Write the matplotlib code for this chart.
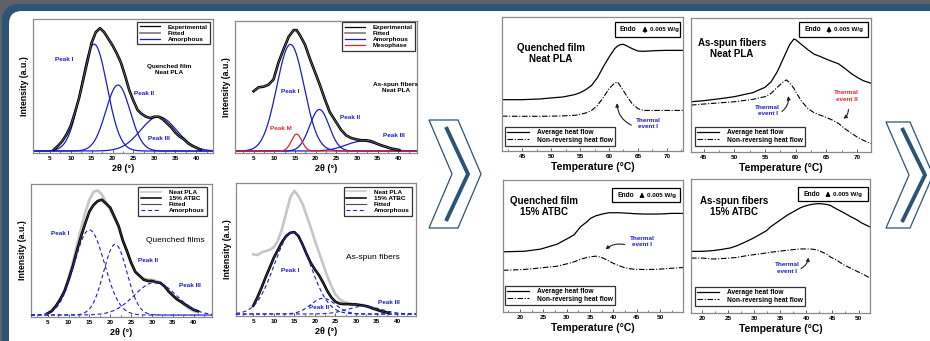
import numpy as np
import matplotlib
matplotlib.use("Agg")
import matplotlib.pyplot as plt
from matplotlib.patches import FancyBboxPatch, Polygon, Rectangle, FancyArrowPatch
from matplotlib.lines import Line2D
from matplotlib.ticker import MultipleLocator

plt.rcParams['font.family'] = ['Liberation Sans', 'DejaVu Sans']

# ---------------- XRD data ----------------
# Quenched film, neat PLA
qf_neat_x = [6, 7, 8, 9, 10, 11, 12, 13, 14, 15, 16, 17, 18, 19, 20, 21, 22, 23, 24,
             25, 26, 27, 28, 29, 30, 31, 32, 33, 34, 35, 36, 37, 38, 39, 40, 41]
qf_neat_y = [1, 4, 7.5, 12.5, 19, 29, 40, 54, 68, 82, 90, 93, 90, 85, 80, 74, 67, 57, 46,
             38, 31, 28, 26, 25, 26, 26, 24, 21, 18, 14, 11, 9, 6, 4, 2.5, 1]
qf_neat_peak_c = [15.6, 21.3, 31.0]
qf_neat_peak_h = [81, 50, 26]
qf_neat_peak_w = [3.1, 2.9, 4.3]

# As-spun fibers, neat PLA
fb_neat_x = [5, 6.2, 7.4, 8.6, 9.8, 11, 12.2, 13.5, 14.7, 15.4, 16.2, 17.4, 18.6, 19.8,
             21, 22.2, 23.4, 25, 26.2, 27.4, 28.6, 29.8, 31, 32.2, 33.4, 34.6, 35.8, 37,
             38.2, 39.4, 40.2]
fb_neat_y = [46, 49, 49.5, 51, 55, 68, 78, 88, 93, 93, 89, 82, 71, 61, 51, 40, 30, 22,
             16, 12, 10, 9, 8.3, 8.3, 7.6, 6, 4.5, 3.3, 2, 1.3, 0.8]
fb_neat_peak_c = [13.9, 20.9, 31.3]
fb_neat_peak_h = [82, 32, 7.6]
fb_neat_peak_w = [3.3, 2.35, 4.0]
fb_meso_c, fb_meso_h, fb_meso_w = 15.4, 13, 1.25

# Quenched films, neat PLA vs 15% ATBC
qf_x = [5, 6, 7, 8, 9, 10, 11, 12, 13, 14, 15, 16, 17, 18, 19, 20, 21, 22, 23, 24, 25,
        26, 27, 28, 29, 30, 31, 32, 33, 34, 35, 36, 37, 38, 39, 40, 41]
qf_pla_y = [1, 4, 7, 12, 18, 28, 40, 53, 66, 78, 88, 94, 95, 92, 86, 80, 74, 67, 57, 48,
            40, 33, 30, 28, 27, 27, 26, 25, 22, 18, 15, 12, 10, 7, 5, 3, 2]
qf_atbc_y = [1.3, 3, 7, 12, 18, 27, 37, 49, 60, 70, 79, 84, 87, 88, 85, 82, 75, 68, 57,
             49, 40, 33, 30, 27, 26, 26, 25, 24.5, 22, 18, 15, 12, 10, 8, 6, 4, 3]
qf_atbc_peak_c = [15.0, 21.2, 30.8]
qf_atbc_peak_h = [65, 54, 25]
qf_atbc_peak_w = [3.6, 2.8, 5.0]

# As-spun fibers, neat PLA vs 15% ATBC
fb_x = [5, 6, 7, 8, 9, 10, 11, 12, 13, 14, 15, 16, 17, 18, 19, 20, 21, 22, 23, 24, 25,
        26, 27, 28, 29, 30, 31, 32, 33, 34, 35, 36, 37, 38]
fb_pla_y = [45.6, 45, 47, 48, 49, 51, 56, 65, 77, 89, 94, 90, 84, 75, 66, 56, 47, 38, 29,
            21.5, 15, 11.4, 9.4, 8.4, 7.8, 7.6, 7, 6.8, 5.8, 5, 3.8, 2.5, 1.8, 0.8]
fb_atbc_y = [6.3, 12.7, 20, 28, 35.4, 43, 49, 55, 59.5, 62, 62.5, 59.5, 53, 45.6, 39, 34,
             29.6, 24, 17.7, 12.7, 9.4, 8, 7.6, 7.6, 7.3, 7.3, 6.8, 6.3, 5.6, 4.3, 3.3,
             2.3, 1.5, 0.8]
fb_atbc_peak_c = [14.5, 22.0, 32.0]
fb_atbc_peak_h = [62, 12, 6]
fb_atbc_peak_w = [4.4, 3.0, 4.0]

# ---------------- MDSC data ----------------
qn_T = [41.5, 45, 48, 50, 52, 54, 55, 56, 57, 58, 59, 60, 61, 61.5, 62, 62.5, 63, 64, 65,
        66, 68, 70, 72.8]
qn_avg = [38.3, 38.3, 38.8, 39.6, 40.3, 42, 43.5, 45.8, 49, 54.7, 62.7, 70, 76.4, 78.4,
          79.4, 79.6, 78.6, 76.4, 74.6, 74.4, 74.9, 75.1, 75.1]
qn_nrev = [26, 25.9, 25.9, 26, 26.2, 26.6, 27.3, 28.4, 30.3, 34, 39.8, 46.5, 50.7, 51.5,
           48.3, 45, 41.5, 35.3, 31.6, 30.3, 30.3, 30.3, 30.3]

fn_T = [42.9, 45, 48, 50, 53, 55, 56, 57, 58, 58.5, 59, 59.7, 60, 61, 62, 63, 64, 65, 66,
        67, 68, 69, 70, 71, 72.3]
fn_avg = [37.5, 38.3, 40, 41.3, 44.3, 48.3, 52.5, 60, 70, 75, 80, 84.3, 83.8, 80, 76.3,
          73, 71.3, 69.3, 67.5, 65.8, 62.5, 58.8, 55.8, 53.3, 51.3]
fn_nrev = [35, 35.8, 36.8, 37.5, 39.3, 41.3, 43.8, 48.3, 52.5, 53.8, 51.8, 47.5, 45, 37.5,
           32.5, 29.3, 27.5, 25.8, 23.8, 21.3, 17.5, 14.3, 11.3, 8.8, 6.3]

qa_T = [16.4, 20.9, 24.4, 28, 30.9, 31.6, 33, 34.4, 35.1, 36.2, 37.3, 38, 39.1, 40.1,
        40.9, 42.3, 43.7, 44.4, 46.6, 47.3, 49.4, 50.9, 52.3, 54.9]
qa_avg = [45.6, 46, 47.6, 51.4, 57, 58.5, 64.6, 68.5, 70.9, 72.8, 73.9, 74.5, 75.2, 75.2,
          75.2, 75, 74.7, 74.5, 74.2, 74.2, 74.2, 74.4, 74.7, 74.7]
qa_nrev = [31.6, 32.2, 33.4, 34.7, 37.2, 38, 40, 41.3, 41.8, 42.3, 41.6, 40.5, 38.5, 36.7,
           35.5, 33.7, 32.7, 32.4, 32.2, 32.2, 32.4, 32.7, 33.1, 33.7]

fa_T = [17.9, 20, 22.2, 23.5, 25.4, 26.7, 28.6, 29.9, 32.4, 33.1, 36.3, 38.8, 39.5, 40.7,
        41.4, 42.3, 42.7, 43.9, 44.6, 45.8, 47.1, 48.4, 49.7, 50.6, 52.2]
fa_avg = [46, 46, 46.6, 47.3, 48.5, 50.2, 53.5, 56, 61.5, 64.2, 72.9, 78.4, 79.5, 80.8,
          81.3, 81.6, 81.6, 81, 80.3, 77.6, 75, 72.1, 69.5, 67.2, 64.2]
fa_nrev = [41, 41, 40.3, 40.5, 41, 41.5, 42.8, 43.5, 44.8, 45.3, 46.8, 47.8, 47.8, 47.8,
           47.5, 46.8, 46, 44, 41.8, 39.5, 36.1, 33.6, 31.1, 29.5, 26.1]

# ---------------- styling ----------------
W, H = 930, 341
BLUE = '#1c1cc8'
RED = '#e3262b'
FRAME = '#2c5476'
SPINE = '#8a8a8a'
LIGHT = '#c6c6c6'
DASH = (0, (3.5, 2.5))
DASHDOT = (0, (5, 1.5, 1, 1.5))

fig = plt.figure(figsize=(W / 100, H / 100), dpi=100)


def box(l, t, r, b):
    return [l / W, 1 - b / H, (r - l) / W, (b - t) / H]


def fx(x):
    return x / W


def fy(y):
    return 1 - y / H


# background, rounded frame and chevrons
bg = fig.add_axes([0, 0, 1, 1], zorder=-5)
bg.set_xlim(0, W)
bg.set_ylim(H, 0)
bg.axis('off')
bg.add_patch(Rectangle((0, 0), W, H, fc='#5e6265', ec='none'))
bg.add_patch(FancyBboxPatch((2, 4), 1100, 500, boxstyle='round,pad=0,rounding_size=18',
                            fc=FRAME, ec='none'))
bg.add_patch(FancyBboxPatch((9, 11), 1100, 500, boxstyle='round,pad=0,rounding_size=13',
                            fc='white', ec='none'))
for outer, inner in [
    ([(429, 120), (458, 120), (481, 174), (458, 228), (429, 228), (452, 174)],
     [(446, 127), (468, 174), (446, 221)]),
    ([(886, 122), (910, 122), (933, 175), (910, 228), (886, 228), (909, 175)],
     [(902, 128), (925, 175), (902, 222)]),
]:
    bg.add_patch(Polygon(outer, closed=True, fc='white', ec=FRAME, lw=0.9))
    xs, ys = zip(*inner)
    bg.plot(xs, ys, color=FRAME, lw=2.8, solid_capstyle='butt', solid_joinstyle='miter')


def style_axes(ax, xlim, ylim, xlabel, ylabel=None, major=5, minor=2.5):
    ax.set_xlim(*xlim)
    ax.set_ylim(*ylim)
    ax.set_yticks([])
    ax.xaxis.set_major_locator(MultipleLocator(major))
    ax.xaxis.set_minor_locator(MultipleLocator(minor))
    ax.tick_params(axis='x', which='major', direction='in', length=2.2, width=0.6,
                   labelsize=4.6, pad=2.5, color='#444')
    ax.tick_params(axis='x', which='minor', direction='in', length=1.3, width=0.5,
                   color='#444')
    for lbl in ax.get_xticklabels():
        lbl.set_fontweight('bold')
    for s in ax.spines.values():
        s.set_color(SPINE)
        s.set_linewidth(0.9)
    ax.set_xlabel(xlabel, fontsize=6.5, fontweight='bold', labelpad=2)
    if ylabel:
        ax.set_ylabel(ylabel, fontsize=6.3, fontweight='bold', labelpad=3)


def gauss(x, c, h, w):
    return h * np.exp(-(x - c) ** 2 / (2 * w ** 2))


def small_legend(ax, entries, loc, anchor, fs=4.6):
    handles = [Line2D([], [], color=c, lw=lw, ls=ls) for _, c, lw, ls in entries]
    labels = [e[0] for e in entries]
    lg = ax.legend(handles, labels, loc=loc, bbox_to_anchor=anchor, borderaxespad=0,
                   frameon=True, fancybox=False, handlelength=3.2, handletextpad=1.2,
                   labelspacing=0.12, borderpad=0.35, prop={'weight': 'bold', 'size': fs})
    lg.get_frame().set_edgecolor('black')
    lg.get_frame().set_linewidth(0.9)
    return lg


def note(ax, x, y, s, color=BLUE, fs=4.6, weight='bold', ha='center'):
    ax.text(x, y, s, color=color, fontsize=fs, fontweight=weight, ha=ha, va='center',
            linespacing=1.3)


XRD_YLIM = (-1.5, 100)
EXP_LEG = [('Experimental', 'black', 0.9, '-'), ('Fitted', '#7a7a7a', 1.2, '-'),
           ('Amorphous', BLUE, 0.9, '-')]
MIX_LEG = [('Neat PLA', LIGHT, 1.1, '-'), ('15% ATBC', 'black', 1.1, '-'),
           ('Fitted', '#4a4a4a', 0.8, '-'), ('Amorphous', BLUE, 0.8, DASH)]

# ---- panel: quenched film, neat PLA ----
ax = fig.add_axes(box(33, 19, 213, 153))
style_axes(ax, (1, 44), XRD_YLIM, '2θ (°)', 'Intensity (a.u.)')
xg = np.linspace(1, 44, 400)
ax.plot(qf_neat_x, qf_neat_y, color='black', lw=1.9, zorder=3)
ax.plot(qf_neat_x, qf_neat_y, color='#7a7a7a', lw=0.5, zorder=4)
for c, h, w in zip(qf_neat_peak_c, qf_neat_peak_h, qf_neat_peak_w):
    ax.plot(xg, gauss(xg, c, h, w), color=BLUE, lw=0.9, zorder=2)
small_legend(ax, EXP_LEG, 'upper right', (0.983, 0.978))
note(ax, 8.5, 69, 'Peak I')
note(ax, 27.5, 43.5, 'Peak II')
note(ax, 31.1, 9.3, 'Peak III')
note(ax, 33.6, 61.5, 'Quenched film\nNeat PLA', color='black')

# ---- panel: as-spun fibers, neat PLA ----
ax = fig.add_axes(box(235, 21, 417, 153))
style_axes(ax, (0.5, 44.5), XRD_YLIM, '2θ (°)', 'Intensity (a.u.)')
xg = np.linspace(0.5, 44.5, 400)
ax.plot(fb_neat_x, fb_neat_y, color='black', lw=1.9, zorder=3)
ax.plot(fb_neat_x, fb_neat_y, color='#7a7a7a', lw=0.5, zorder=4)
for c, h, w in zip(fb_neat_peak_c, fb_neat_peak_h, fb_neat_peak_w):
    ax.plot(xg, gauss(xg, c, h, w), color=BLUE, lw=0.9, zorder=2)
ax.plot(xg, gauss(xg, fb_meso_c, fb_meso_h, fb_meso_w), color=RED, lw=0.9, zorder=2)
small_legend(ax, EXP_LEG + [('Mesophase', RED, 0.9, '-')], 'upper right', (0.989, 0.992))
note(ax, 13.9, 46, 'Peak I')
note(ax, 11.5, 17, 'Peak M', color=RED)
note(ax, 28.2, 26, 'Peak II')
note(ax, 39.0, 11.6, 'Peak III')
note(ax, 39.4, 48.7, 'As-spun fibers\nNeat PLA', color='black')

# ---- panel: quenched films, neat PLA vs 15% ATBC ----
ax = fig.add_axes(box(31, 184, 212, 317))
style_axes(ax, (1, 44.4), XRD_YLIM, '2θ (°)', 'Intensity (a.u.)')
xg = np.linspace(1, 44.4, 400)
ax.plot(qf_x, qf_pla_y, color=LIGHT, lw=1.9, zorder=2)
ax.plot(qf_x, qf_atbc_y, color='black', lw=1.9, zorder=3)
ax.plot(qf_x, qf_atbc_y, color='#4a4a4a', lw=0.5, zorder=4)
for c, h, w in zip(qf_atbc_peak_c, qf_atbc_peak_h, qf_atbc_peak_w):
    ax.plot(xg, gauss(xg, c, h, w), color=BLUE, lw=0.8, ls=DASH, zorder=5)
small_legend(ax, MIX_LEG, 'upper right', (0.972, 0.977))
note(ax, 8.0, 62.5, 'Peak I')
note(ax, 29.0, 42, 'Peak II')
note(ax, 39.2, 22.5, 'Peak III')
note(ax, 35.6, 57, 'Quenched films', color='black', fs=6, weight='normal')

# ---- panel: as-spun fibers, neat PLA vs 15% ATBC ----
ax = fig.add_axes(box(236, 183, 416, 316))
style_axes(ax, (0.8, 44.6), XRD_YLIM, '2θ (°)', 'Intensity (a.u.)')
xg = np.linspace(0.8, 44.6, 400)
ax.plot(fb_x, fb_pla_y, color=LIGHT, lw=1.9, zorder=2)
ax.plot(fb_x, fb_atbc_y, color='black', lw=1.9, zorder=3)
ax.plot(fb_x, fb_atbc_y, color='#4a4a4a', lw=0.5, zorder=4)
for c, h, w in zip(fb_atbc_peak_c, fb_atbc_peak_h, fb_atbc_peak_w):
    ax.plot(xg, gauss(xg, c, h, w), color=BLUE, lw=0.8, ls=DASH, zorder=5)
small_legend(ax, MIX_LEG, 'upper right', (0.978, 0.97))
note(ax, 13.9, 33, 'Peak I')
note(ax, 21.0, 5, 'Peak II')
note(ax, 38.0, 9, 'Peak III')
note(ax, 34.0, 43, 'As-spun fibers', color='black', fs=6, weight='normal')


# ---------------- MDSC panels ----------------
def endo_box(x0, y0, x1, y1):
    fig.add_artist(Rectangle((fx(x0), fy(y1)), (x1 - x0) / W, (y1 - y0) / H,
                             transform=fig.transFigure, fc='white', ec='black', lw=0.9,
                             zorder=6))
    ym = fy((y0 + y1) / 2)
    fig.text(fx(x0 + 5), ym, 'Endo', fontsize=4.8, fontweight='bold', va='center',
             zorder=7)
    fig.add_artist(FancyArrowPatch((fx(x0 + 30), fy(y1 - 2)), (fx(x0 + 30), fy(y0 + 1.5)),
                                   transform=fig.transFigure, arrowstyle='-|>',
                                   mutation_scale=6, lw=1.0, color='black', zorder=7))
    fig.text(fx(x0 + 35), ym, '0.005 W/g', fontsize=4.5, fontweight='bold', va='center',
             zorder=7)


def curved_arrow(ax, tail, head, rad):
    ax.add_patch(FancyArrowPatch(tail, head, connectionstyle=f'arc3,rad={rad}',
                                 arrowstyle='-|>', mutation_scale=5, lw=0.8,
                                 color='#222'))


DSC_LEG = [('Average heat flow', 'black', 0.9, '-'),
           ('Non-reversing heat flow', 'black', 0.8, DASHDOT)]


def dsc_panel(rect, xlim, T, avg, nrev, title, title_xy):
    ax = fig.add_axes(box(*rect))
    style_axes(ax, xlim, (0, 100), 'Temperature (°C)')
    ax.xaxis.label.set_fontsize(7.5)
    ax.plot(T, avg, color='black', lw=0.9)
    ax.plot(T, nrev, color='black', lw=0.8, ls=DASHDOT)
    ax.text(title_xy[0], title_xy[1], title, fontsize=7, fontweight='bold', ha='center',
            va='center', linespacing=1.15)
    return ax


ax = dsc_panel((502, 17, 683, 151), (41.5, 72.8), qn_T, qn_avg, qn_nrev,
               'Quenched film\nNeat PLA', (49.9, 73))
small_legend(ax, DSC_LEG, 'lower left', (0.017, 0.037), fs=4.8)
note(ax, 66.8, 20.4, 'Thermal\nevent I')
curved_arrow(ax, (64.3, 18.4), (61.4, 37.8), -0.35)
endo_box(615, 22, 680, 37)

ax = dsc_panel((691, 18, 871, 152), (42.9, 72.3), fn_T, fn_avg, fn_nrev,
               'As-spun fibers\nNeat PLA', (49.6, 77.5))
small_legend(ax, DSC_LEG, 'lower left', (0.022, 0.045), fs=4.8)
note(ax, 55.4, 31, 'Thermal\nevent I')
curved_arrow(ax, (57.4, 29), (58.7, 43.8), 0.35)
note(ax, 68.3, 41.8, 'Thermal\nevent II', color=RED)
curved_arrow(ax, (68.6, 33.8), (67.4, 23.8), -0.35)
endo_box(799, 22, 868, 37)

ax = dsc_panel((503, 180, 683, 312), (16.4, 54.9), qa_T, qa_avg, qa_nrev,
               'Quenched film\n15% ATBC', (25.1, 79.7))
small_legend(ax, DSC_LEG, 'lower left', (0.011, 0.053), fs=4.8)
note(ax, 46.2, 53.2, 'Thermal\nevent I')
curved_arrow(ax, (43.0, 50.6), (37.9, 46.0), 0.3)
endo_box(612, 188, 680, 202)

ax = dsc_panel((691, 179, 870, 313), (17.9, 52.2), fa_T, fa_avg, fa_nrev,
               'As-spun fibers\n15% ATBC', (26.1, 79.6))
small_legend(ax, DSC_LEG, 'lower left', (0.022, 0.052), fs=4.8)
note(ax, 36.3, 33.6, 'Thermal\nevent I')
curved_arrow(ax, (38.5, 32.3), (40.4, 43.5), 0.35)
endo_box(798, 187, 868, 201)

fig.savefig('out.png', dpi=100)
